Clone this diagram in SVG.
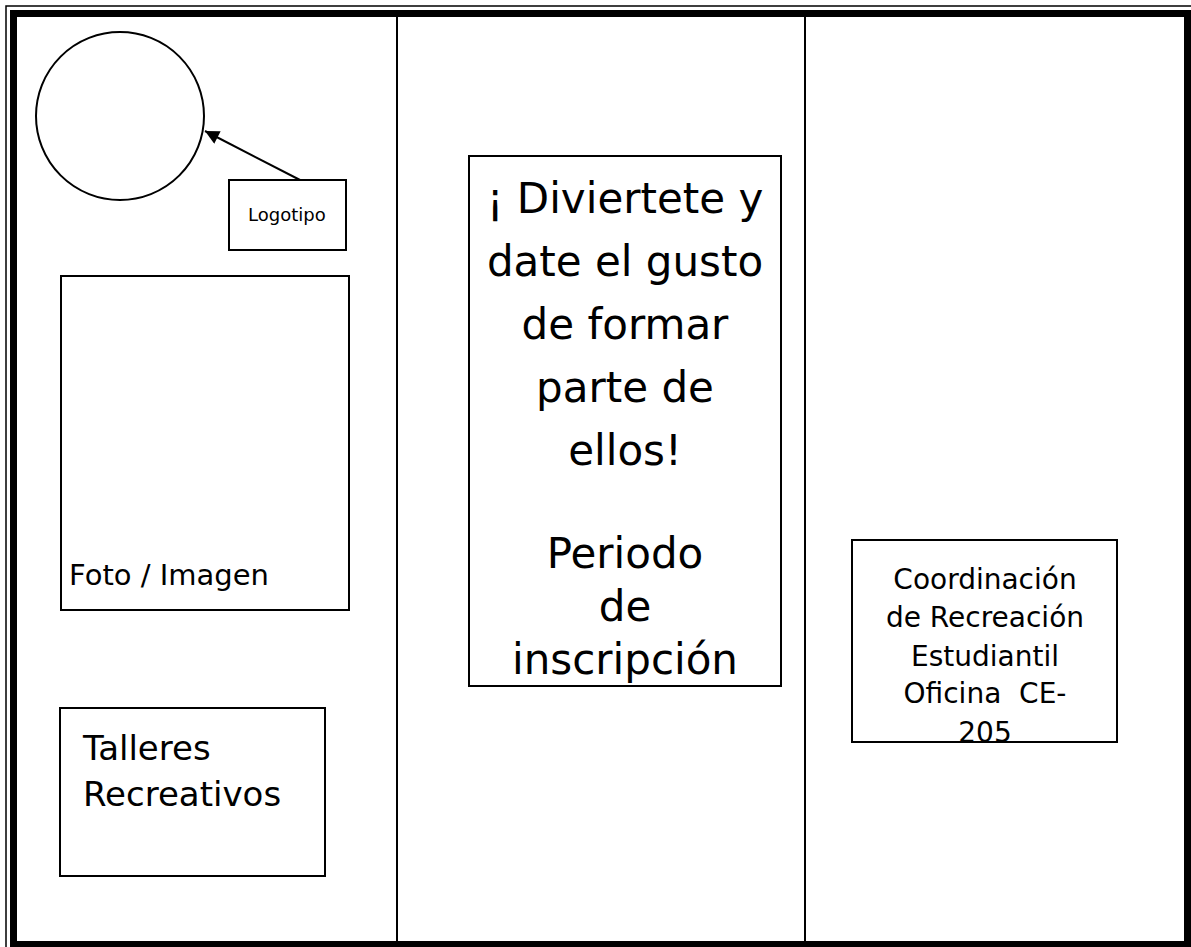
<svg xmlns="http://www.w3.org/2000/svg" width="1191" height="947" viewBox="0 0 1191 947">
<defs>
<style>
.box{fill:none;stroke:#000;stroke-width:2}
.t{font-family:"DejaVu Sans","Liberation Sans",sans-serif;fill:#000}
.c{text-anchor:middle}
.pre{white-space:pre}
</style>
<marker id="ah" viewBox="0 0 10 10" refX="10" refY="5" markerWidth="16" markerHeight="14" markerUnits="userSpaceOnUse" orient="auto">
<path d="M0,0 L10,5 L0,10 z" fill="#000"/>
</marker>
</defs>
<rect width="1191" height="947" fill="#fff"/>
<g id="frame">
<path d="M6,947 V6 H1191" fill="none" stroke="#000" stroke-width="1.5"/>
<rect x="13.5" y="13.5" width="1174" height="931" fill="none" stroke="#000" stroke-width="7"/>
<line x1="397" y1="17" x2="397" y2="941" stroke="#000" stroke-width="2"/>
<line x1="805" y1="17" x2="805" y2="941" stroke="#000" stroke-width="2"/>
</g>
<g id="logo-circle">
<circle cx="120" cy="116" r="84" fill="none" stroke="#000" stroke-width="2"/>
</g>
<g id="logotipo">
<rect class="box" x="229" y="180" width="117" height="70"/>
<text class="t" x="248" y="221" font-size="18">Logotipo</text>
</g>
<g id="foto">
<rect class="box" x="61" y="276" width="288" height="334"/>
<text class="t" x="69" y="585" font-size="29">Foto / Imagen</text>
</g>
<g id="talleres">
<rect class="box" x="60" y="708" width="265" height="168"/>
<text class="t" x="83" y="760" font-size="34">Talleres</text>
<text class="t" x="83" y="806" font-size="34">Recreativos</text>
</g>
<g id="mensaje">
<rect class="box" x="469" y="156" width="312" height="530"/>
<text class="t c" x="625" y="213" font-size="42">¡ Diviertete y</text>
<text class="t c" x="625" y="276" font-size="42">date el gusto</text>
<text class="t c" x="625" y="339" font-size="42">de formar</text>
<text class="t c" x="625" y="402" font-size="42">parte de</text>
<text class="t c" x="625" y="465" font-size="42">ellos!</text>
<text class="t c" x="625" y="568" font-size="42">Periodo</text>
<text class="t c" x="625" y="621" font-size="42">de</text>
<text class="t c" x="625" y="674" font-size="42">inscripción</text>
</g>
<g id="coordinacion">
<rect class="box" x="852" y="540" width="265" height="202"/>
<text class="t c" x="985" y="589" font-size="28">Coordinación</text>
<text class="t c" x="985" y="627" font-size="28">de Recreación</text>
<text class="t c" x="985" y="666" font-size="28">Estudiantil</text>
<text class="t c pre" x="985" y="703" font-size="28">Oficina  CE-</text>
<text class="t c" x="985" y="742" font-size="28">205</text>
</g>
<g id="connectors">
<line x1="300" y1="180" x2="205" y2="131" stroke="#000" stroke-width="2" marker-end="url(#ah)"/>
</g>
</svg>
